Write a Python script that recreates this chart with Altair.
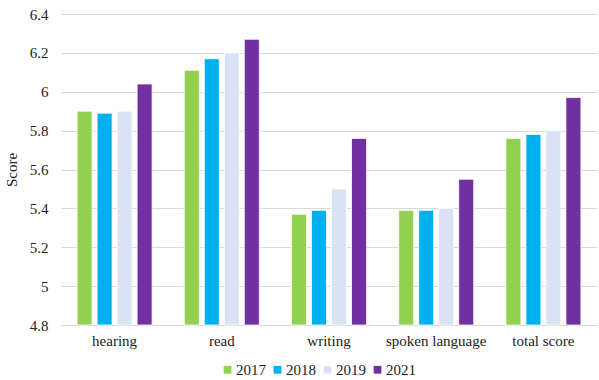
import altair as alt
import pandas as pd

categories = ["hearing", "read", "writing", "spoken language", "total score"]
years = ["2017", "2018", "2019", "2021"]
v2017 = [5.90, 6.11, 5.37, 5.39, 5.76]
v2018 = [5.89, 6.17, 5.39, 5.39, 5.78]
v2019 = [5.90, 6.20, 5.50, 5.40, 5.80]
v2021 = [6.04, 6.27, 5.76, 5.55, 5.97]
colors = ["#92D050", "#00B0F0", "#DAE3F3", "#7030A0"]
y_ticks = [4.8, 5.0, 5.2, 5.4, 5.6, 5.8, 6.0, 6.2, 6.4]

rows = []
for yr, vals in zip(years, [v2017, v2018, v2019, v2021]):
    for c, v in zip(categories, vals):
        rows.append({"category": c, "year": yr, "score": v})
df = pd.DataFrame(rows)

font = "Liberation Serif, Times New Roman, serif"
fs = 15

chart = alt.Chart(df).mark_bar(stroke="white", strokeWidth=0.8).encode(
    x=alt.X("category:N", sort=categories, title=None,
            scale=alt.Scale(paddingInner=0.3, paddingOuter=0.15),
            axis=alt.Axis(labelAngle=0, labelFont=font, labelFontSize=fs, labelColor="#222",
                          ticks=False, domain=True, domainColor="#d9d9d9", labelPadding=8)),
    xOffset=alt.XOffset("year:N", sort=years, scale=alt.Scale(paddingInner=0.25, paddingOuter=0)),
    y=alt.Y("score:Q", title="Score",
            scale=alt.Scale(domain=[4.8, 6.4], zero=False, nice=False),
            axis=alt.Axis(values=y_ticks, format="~g", labelFont=font, labelFontSize=fs,
                          labelColor="#222", titleFont=font, titleFontSize=fs, titleFontWeight="normal",
                          titleColor="#222", ticks=False, domain=False, grid=True, gridColor="#d9d9d9",
                          labelPadding=13, titlePadding=10)),
    y2=alt.datum(4.8),
    color=alt.Color("year:N", sort=years, title=None,
                    scale=alt.Scale(domain=years, range=colors),
                    legend=alt.Legend(orient="none", legendX=159, legendY=348, direction="horizontal",
                                      symbolType="square", symbolSize=60, symbolStrokeWidth=0,
                                      labelFont=font, labelFontSize=fs, labelColor="#222",
                                      columnPadding=4, labelOffset=1)),
).properties(
    width=536, height=311,
    padding={"left": 61, "top": 14, "right": 2, "bottom": 55},
    autosize=alt.AutoSizeParams(type="none"),
).configure_view(stroke=None)

chart.save("out.html", embed_options={"renderer": "svg", "actions": False})
